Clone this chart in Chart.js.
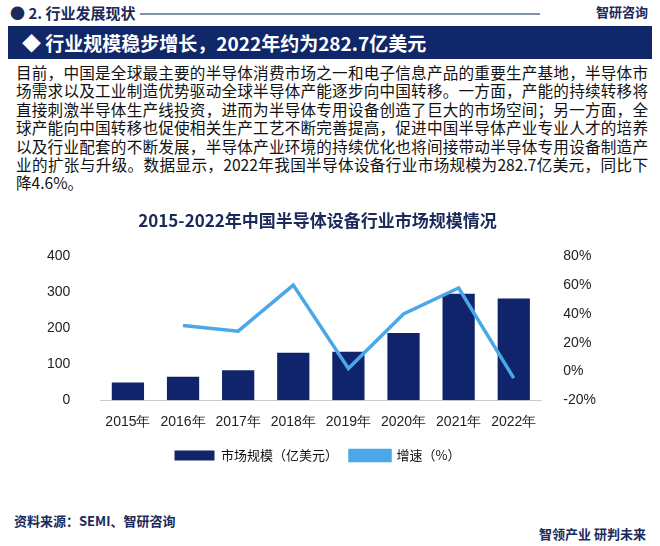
<!DOCTYPE html>
<html><head><meta charset="utf-8">
<script src="https://cdn.jsdelivr.net/npm/chart.js@4/dist/chart.umd.min.js"></script>
<style>
body{margin:0;width:660px;height:546px;background:#fff;font-family:"Noto Sans CJK SC",sans-serif;position:relative;overflow:hidden}
.h1{position:absolute;left:10px;top:2px;font-size:15px;color:#1a2a5a;font-weight:bold}
.line{position:absolute;left:140px;right:120px;top:13px;height:2px;background:#8090a8}
.logo{position:absolute;right:12px;top:2px;font-size:13px;color:#1a2a5a;font-weight:bold}
.bar{position:absolute;left:8px;right:8px;top:26px;height:33px;background:#10286a;color:#fff;font-size:19px;font-weight:bold;line-height:33px;padding-left:14px}
.txt{position:absolute;left:16px;right:12px;top:63px;font-size:15.6px;line-height:18.4px;color:#111;text-align:justify}
.src{position:absolute;left:14px;top:511px;font-size:13px;color:#1a2a5a;font-weight:bold}
.foot{position:absolute;right:14px;top:524px;font-size:13px;color:#1a2a5a;font-weight:bold}
#wrap{position:absolute;left:0;top:210px;width:660px;height:262px}
</style></head><body>
<div class="h1">● 2. 行业发展现状</div><div class="line"></div><div class="logo">智研咨询</div>
<div class="bar">◆ 行业规模稳步增长，2022年约为282.7亿美元</div>
<div class="txt">目前，中国是全球最主要的半导体消费市场之一和电子信息产品的重要生产基地，半导体市场需求以及工业制造优势驱动全球半导体产能逐步向中国转移。一方面，产能的持续转移将直接刺激半导体生产线投资，进而为半导体专用设备创造了巨大的市场空间；另一方面，全球产能向中国转移也促使相关生产工艺不断完善提高，促进中国半导体产业专业人才的培养以及行业配套的不断发展，半导体产业环境的持续优化也将间接带动半导体专用设备制造产业的扩张与升级。数据显示，2022年我国半导体设备行业市场规模为282.7亿美元，同比下降4.6%。</div>
<div id="wrap"><canvas id="c"></canvas></div>
<div class="src">资料来源：SEMI、智研咨询</div>
<div class="foot">智领产业 研判未来</div>
<script>
const categories=["2015年","2016年","2017年","2018年","2019年","2020年","2021年","2022年"];
const marketSize=[49,65,83,132,135,187,296,282.7];
const growth=[null,32,28,60,2,40,58,-4.6];
new Chart(document.getElementById('c'),{
 data:{labels:categories,datasets:[
  {type:'bar',label:'市场规模（亿美元）',data:marketSize,yAxisID:'y',backgroundColor:'#0f246a',categoryPercentage:0.75,barPercentage:0.78,order:1},
  {type:'line',label:'增速（%）',data:growth,yAxisID:'y1',borderColor:'#4aa8e8',backgroundColor:'#4aa8e8',borderWidth:3.5,pointRadius:0,tension:0,order:0}
 ]},
 options:{responsive:true,maintainAspectRatio:false,animation:false,
  layout:{padding:{left:25,right:50}},
  plugins:{title:{display:true,text:'2015-2022年中国半导体设备行业市场规模情况',font:{size:17,weight:'bold',family:'Noto Sans CJK SC'},color:'#1a2a5a',padding:{top:0,bottom:26}},
   legend:{position:'bottom',labels:{sort:(a,b)=>a.datasetIndex-b.datasetIndex,font:{size:13,family:'Noto Sans CJK SC'},color:'#111',boxWidth:40,boxHeight:10,padding:12}}},
  scales:{
   x:{grid:{display:false},border:{color:'#ccc'},ticks:{font:{size:14},color:'#222',maxRotation:0,autoSkip:false,padding:6}},
   y:{min:0,max:400,ticks:{stepSize:100,font:{size:14},color:'#222',padding:22},grid:{display:false},border:{display:false}},
   y1:{position:'right',min:-20,max:80,ticks:{stepSize:20,callback:v=>v+'%',font:{size:14},color:'#222',padding:14},grid:{display:false},border:{display:false}}
  }}
});
</script></body></html>
